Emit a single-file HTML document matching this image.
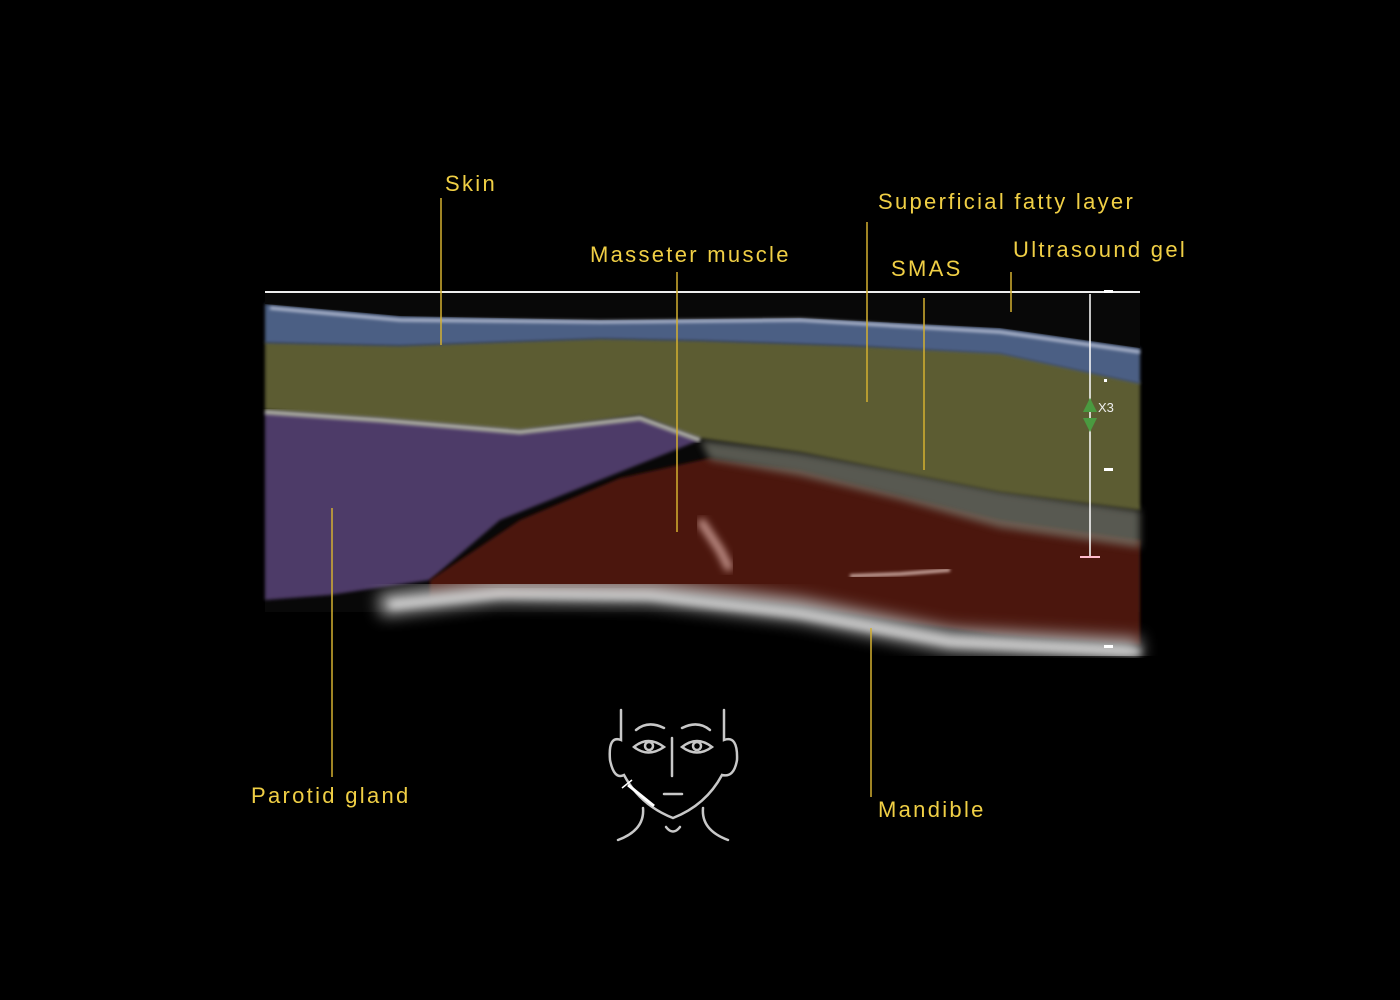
<!DOCTYPE html>
<html><head><style>
html,body{margin:0;padding:0;background:#000;width:1400px;height:1000px;overflow:hidden}
svg{display:block}
text{font-family:"Liberation Sans",sans-serif;font-size:22px;fill:#f0cf45;letter-spacing:2.3px}
</style></head><body>
<svg width="1400" height="1000" viewBox="0 0 1400 1000">
<defs>
<filter id="b4"><feGaussianBlur stdDeviation="4"/></filter>
<filter id="b8"><feGaussianBlur stdDeviation="8"/></filter>
<filter id="b2"><feGaussianBlur stdDeviation="1.5"/></filter>
</defs>
<rect width="1400" height="1000" fill="#000"/>
<rect x="265" y="292" width="875" height="320" fill="#080808"/>
<!-- parotid -->
<path d="M265 412 L380 420 L520 432 L640 418 L700 440 L600 480 L500 520 L430 580 L330 595 L265 600 Z" fill="#4e3a68" filter="url(#b2)"/>
<!-- masseter -->
<path d="M430 580 L520 520 L620 478 L710 458 L800 470 L900 495 L1000 520 L1140 540 L1140 645 L1000 635 L900 622 L800 606 L700 596 L560 594 L430 598 Z" fill="#4c120a" filter="url(#b2)"/>
<path d="M700 440 L800 452 L900 470 L1000 490 L1140 510 L1140 548 L1000 528 L900 500 L800 476 L710 460 Z" fill="#7a7c70" opacity="0.7" filter="url(#b4)"/>
<!-- fat -->
<path d="M265 342 L400 345 L600 338 L700 340 L850 345 L1000 352 L1140 382 L1140 510 L1000 492 L900 472 L800 452 L700 438 L640 415 L520 430 L380 418 L265 410 Z" fill="#5c5c32" filter="url(#b2)"/>
<!-- skin -->
<path d="M265 304 L400 316 L600 320 L800 318 L1000 328 L1140 348 L1140 384 L1000 354 L850 346 L700 341 L600 339 L400 346 L265 343 Z" fill="#4c5e84" filter="url(#b2)"/>
<path d="M265 292 L1140 292 L1140 348 L1000 328 L800 318 L600 320 L400 316 L265 304 Z" fill="#080808"/>
<path d="M270 308 L400 320 L600 322 L800 320 L1000 332 L1140 352" stroke="#b8c0d4" stroke-width="3" fill="none" filter="url(#b2)"/>
<path d="M265 412 L380 420 L520 432 L640 418 L700 440" stroke="#a8a8a0" stroke-width="5" fill="none" filter="url(#b2)"/>
<!-- mandible bright band -->
<path d="M380 605 L500 590 L650 592 L800 610 L950 640 L1140 650" stroke="#b0b0b0" stroke-width="22" fill="none" filter="url(#b8)"/>
<path d="M390 605 L500 594 L650 596 L800 614 L950 642 L1140 652" stroke="#dcdcdc" stroke-width="6" fill="none" filter="url(#b4)"/>
<path d="M850 576 L900 574 L950 570" stroke="#e0c0b8" stroke-width="3" fill="none" filter="url(#b2)"/>
<path d="M700 520 L720 550 L730 570" stroke="#c89890" stroke-width="8" fill="none" filter="url(#b4)"/>
<line x1="265" y1="292" x2="1140" y2="292" stroke="#eee" stroke-width="2"/>
<!-- scale -->
<line x1="1090" y1="294" x2="1090" y2="557" stroke="#fff" stroke-width="1.5"/>
<line x1="1080" y1="557" x2="1100" y2="557" stroke="#fbc" stroke-width="2"/>
<rect x="1104" y="290" width="9" height="3" fill="#fff"/>
<rect x="1104" y="468" width="9" height="3" fill="#fff"/>
<rect x="1104" y="645" width="9" height="3" fill="#fff"/>
<rect x="1104" y="379" width="3" height="3" fill="#fff"/>
<polygon points="1090,398 1083,412 1097,412" fill="#4a9a40"/>
<polygon points="1090,432 1083,418 1097,418" fill="#4a9a40"/>
<text x="1098" y="412" style="font-size:13px;fill:#eee;letter-spacing:0">X3</text>
<g stroke="#d4b030" stroke-width="1.5">
<line x1="441" y1="198" x2="441" y2="345"/>
<line x1="677" y1="272" x2="677" y2="532"/>
<line x1="867" y1="222" x2="867" y2="402"/>
<line x1="924" y1="298" x2="924" y2="470"/>
<line x1="1011" y1="272" x2="1011" y2="312"/>
<line x1="332" y1="508" x2="332" y2="777"/>
<line x1="871" y1="628" x2="871" y2="797"/>
</g>
<text x="445" y="191">Skin</text>
<text x="590" y="262">Masseter muscle</text>
<text x="878" y="209">Superficial fatty layer</text>
<text x="891" y="276">SMAS</text>
<text x="1013" y="257">Ultrasound gel</text>
<text x="251" y="803">Parotid gland</text>
<text x="878" y="817">Mandible</text>
<g stroke="#c8c8c8" stroke-width="2.5" fill="none" stroke-linecap="round">
<path d="M621 710 L621 740 Q608 735 610 760 Q614 780 624 775 Q640 805 673 818 Q706 805 722 775 Q734 778 737 760 Q738 735 724 740 L724 710"/>
<path d="M636 730 Q648 720 664 728"/>
<path d="M682 728 Q698 720 710 730"/>
<path d="M634 747 Q648 735 664 747 Q648 758 634 747 Z"/>
<path d="M682 747 Q697 735 712 747 Q697 758 682 747 Z"/>
<circle cx="649" cy="746" r="4"/>
<circle cx="697" cy="746" r="4"/>
<line x1="672" y1="738" x2="672" y2="776"/>
<line x1="664" y1="794" x2="682" y2="794"/>
<path d="M643 808 Q645 830 618 840"/>
<path d="M703 808 Q701 830 728 840"/>
<path d="M666 827 Q673 836 680 827"/>
</g>
<line x1="628" y1="785" x2="654" y2="806" stroke="#fff" stroke-width="3"/>
<line x1="622" y1="788" x2="632" y2="780" stroke="#fff" stroke-width="1.5"/>
</svg>
</body></html>
